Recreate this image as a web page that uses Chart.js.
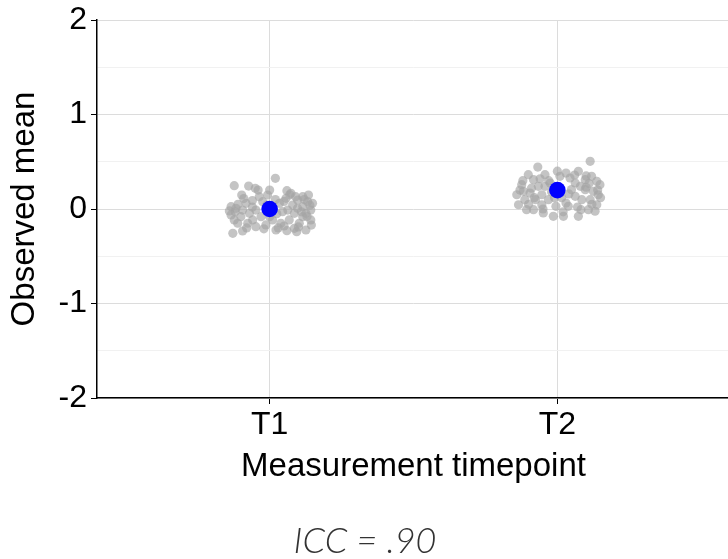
<!DOCTYPE html>
<html>
<head>
<meta charset="utf-8">
<script src="https://cdn.jsdelivr.net/npm/chart.js@4/dist/chart.umd.min.js"></script>
<style>
	html, body { margin: 0; padding: 0; background: #fff; overflow: hidden; }
	canvas { display: block; }
</style>
</head>
<body>
<canvas id="chart" width="730" height="559"></canvas>
<script>
// === Data ===

const timepoints = ['T1', 'T2'];
const means = [0.0, 0.2];
const yTicks = [-2, -1.5, -1, -0.5, 0, 0.5, 1, 1.5, 2];
const caption = 'ICC = .90';

const t1Jitter = [-0.123, -0.073, -0.050, 0.020, -0.097, 0.060, 0.135, -0.128, -0.094, -0.111,
	0.022, 0.060, 0.094, 0.126, 0.143, 0.149, -0.134, -0.134, -0.059, -0.013,
	-0.036, -0.007, 0.097, 0.115, 0.086, 0.045, 0.068, 0.103, 0.034, -0.094,
	-0.070, -0.100, -0.048, -0.030, 0.010, 0.126, 0.132, 0.080, 0.057, 0.115,
	-0.117, -0.082, -0.024, -0.076, -0.048, 0.039, 0.086, 0.115, 0.143, -0.123,
	0.000, 0.063, 0.097, 0.074, -0.010, 0.025, 0.050, -0.060,
	-0.110, -0.060, 0.020, 0.050, 0.090, 0.120, 0.140, 0.130, 0.100, 0.030,
	-0.020, -0.080, -0.120, -0.090, 0.070, 0.110, -0.040, 0.000, 0.145, -0.140];
const t1Values = [0.247, 0.243, 0.219, 0.325, 0.148, 0.194, 0.148, -0.257, -0.233, -0.151,
	-0.222, -0.229, -0.240, -0.222, -0.116, 0.060, 0.025, -0.063, -0.116, -0.169,
	0.130, 0.148, 0.095, 0.025, -0.046, -0.028, -0.116, -0.151, 0.060, -0.011,
	-0.046, -0.081, -0.011, -0.081, -0.116, -0.046, 0.077, 0.042, 0.113, 0.130,
	0.007, 0.060, 0.077, -0.151, -0.187, -0.151, -0.204, -0.081, -0.011, -0.116,
	-0.081, -0.011, 0.007, 0.166, 0.040, -0.050, -0.180, 0.020,
	0.050, 0.090, 0.100, 0.080, 0.130, 0.100, 0.040, -0.080, -0.190, -0.200,
	-0.210, -0.200, -0.030, 0.110, 0.150, -0.030, 0.200, 0.200, -0.170, -0.020];

const t2Jitter = [0.114, -0.068, 0.073, 0.119, -0.101, -0.043, 0.044, -0.124, -0.141, -0.135,
	-0.083, -0.014, 0.021, 0.073, 0.108, 0.137, 0.142, 0.148, -0.054, 0.038,
	0.085, 0.097, 0.062, -0.025, -0.066, -0.095, -0.113, -0.054, -0.031, 0.062,
	0.125, 0.114, 0.131, -0.049, -0.107, 0.009, -0.083, 0.030, -0.005, 0.082,
	0.097, -0.118, -0.076, 0.049, -0.043, 0.137, 0.015, -0.020, 0.100, -0.090,
	-0.130, -0.100, -0.060, 0.000, 0.030, 0.060, 0.100, 0.140, 0.120, 0.070,
	-0.010, 0.040, -0.080, 0.110, -0.030, 0.080, -0.120, 0.150, -0.050, 0.020];
const t2Values = [0.505, 0.444, 0.399, 0.346, 0.363, 0.363, 0.328, 0.257, 0.151, 0.045,
	-0.007, -0.078, -0.078, -0.078, -0.007, 0.045, 0.151, 0.257, 0.045, 0.028,
	0.099, 0.205, 0.275, 0.275, 0.240, 0.169, 0.099, 0.151, 0.099, 0.134,
	0.187, 0.099, -0.024, -0.042, -0.007, 0.346, 0.310, 0.063, 0.028, -0.007,
	0.310, 0.187, 0.099, 0.205, 0.240, 0.293, 0.120, 0.180, 0.230, 0.220,
	0.200, 0.050, 0.320, 0.400, 0.380, 0.360, 0.350, 0.200, 0.050, 0.020,
	0.120, 0.160, 0.120, 0.270, 0.300, 0.240, 0.300, 0.120, 0.000, -0.030];

// === Chart ===

const font = 'Liberation Sans, Arial, sans-serif';
const pointColor = 'rgba(165, 165, 165, 0.65)';

function toPoints(center, jitter, values) {
	return values.map((v, i) => ({ x: center + jitter[i], y: v }));
}

const isMajor = (v) => Number.isInteger(v);

new Chart(document.getElementById('chart'), {
	type: 'scatter',
	data: {
		datasets: [
			{
				label: 'Mean',
				data: means.map((m, i) => ({ x: i + 1, y: m })),
				backgroundColor: '#0000ff',
				borderWidth: 0,
				pointRadius: 8.3,
				pointHoverRadius: 8.3
			},
			{
				label: timepoints[0],
				data: toPoints(1, t1Jitter, t1Values),
				backgroundColor: pointColor,
				borderWidth: 0,
				pointRadius: 4.6
			},
			{
				label: timepoints[1],
				data: toPoints(2, t2Jitter, t2Values),
				backgroundColor: pointColor,
				borderWidth: 0,
				pointRadius: 4.6
			}
		]
	},
	options: {
		responsive: false,
		animation: false,
		events: [],
		layout: { autoPadding: false, padding: { top: 20, left: 0, right: 0, bottom: 0 } },
		plugins: {
			legend: { display: false },
			tooltip: { enabled: false },
			title: {
				display: true,
				position: 'bottom',
				text: caption,
				color: '#333',
				font: { family: 'Lato', size: 36, weight: 300, style: 'italic', lineHeight: 1 },
				padding: { top: 30.5, bottom: 0 }
			}
		},
		scales: {
			x: {
				type: 'linear',
				min: 0.4,
				max: 2.6,
				afterBuildTicks: (scale) => {
					scale.ticks = timepoints.map((_, i) => ({ value: i + 1 }));
				},
				afterFit: (scale) => {
					scale.height = 94.5;
					scale.paddingLeft = 0;
					scale.paddingRight = 0;
				},
				ticks: {
					callback: (v) => timepoints[v - 1],
					color: '#000',
					font: { family: font, size: 32 },
					padding: 2,
					autoSkip: false,
					maxRotation: 0
				},
				grid: { color: '#dcdcdc', tickColor: '#000', tickLength: 6, lineWidth: 1 },
				border: { color: '#000', width: 1.5 },
				title: {
					display: true,
					text: 'Measurement timepoint',
					color: '#000',
					font: { family: font, size: 33 },
					padding: { top: 2, bottom: 6 }
				}
			},
			y: {
				min: -2,
				max: 2,
				afterBuildTicks: (scale) => {
					scale.ticks = yTicks.map((v) => ({ value: v }));
				},
				afterFit: (scale) => {
					scale.width = 97;
					scale.paddingTop = 0;
					scale.paddingBottom = 0;
				},
				ticks: {
					callback: (v) => isMajor(v) ? String(v) : '',
					color: '#000',
					font: { family: font, size: 32 },
					padding: 4,
					autoSkip: false
				},
				grid: {
					color: (ctx) => isMajor(ctx.tick.value) ? '#dcdcdc' : '#f1f1f1',
					tickColor: (ctx) => isMajor(ctx.tick.value) ? '#000' : 'rgba(0,0,0,0)',
					tickLength: 6,
					lineWidth: 1
				},
				border: { color: '#000', width: 1.5 },
				title: {
					display: true,
					text: 'Observed mean',
					color: '#000',
					font: { family: font, size: 33 },
					padding: { top: 5, bottom: 0 }
				}
			}
		}
	}
});
</script>
</body>
</html>
